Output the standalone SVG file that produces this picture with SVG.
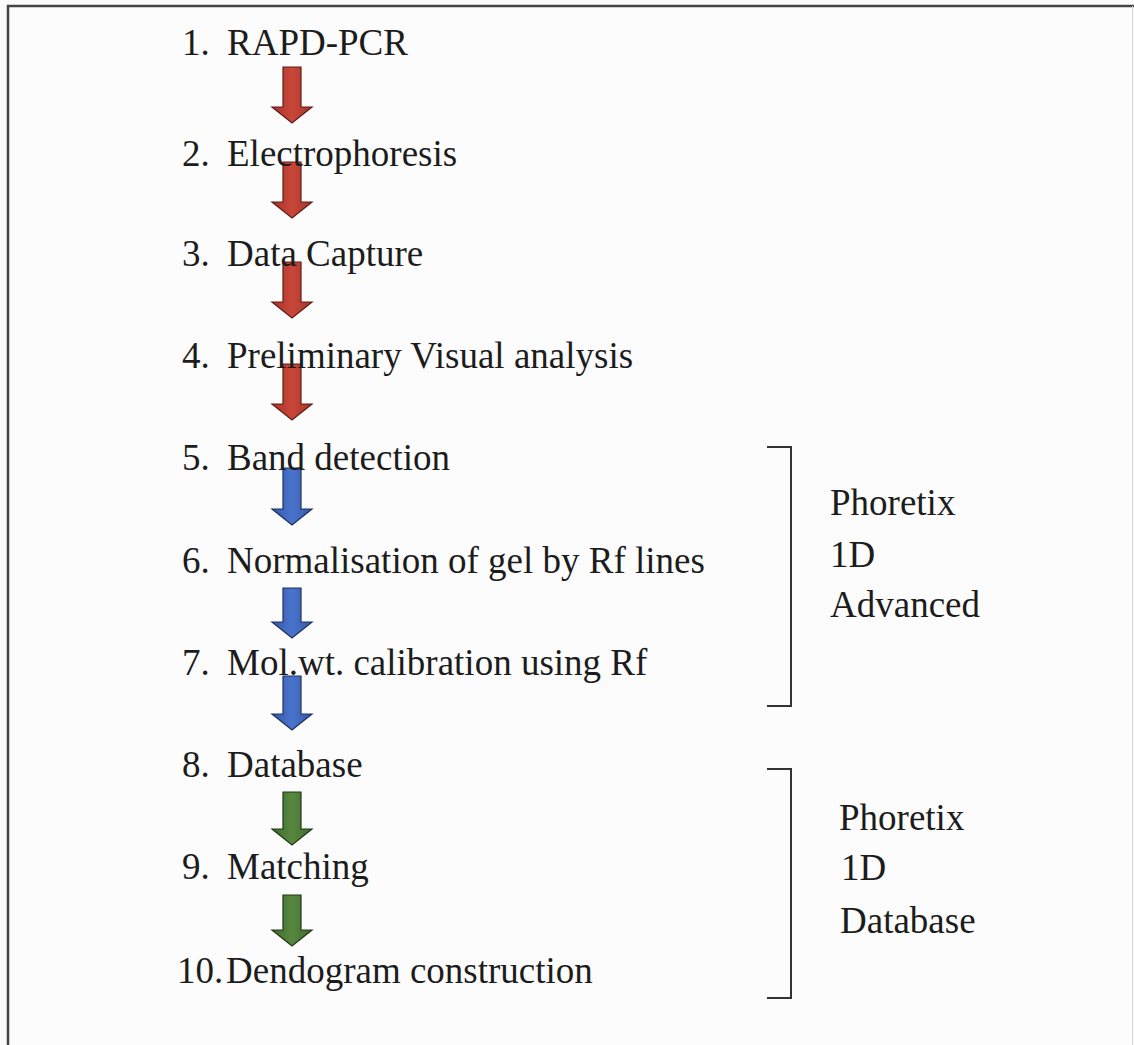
<svg xmlns="http://www.w3.org/2000/svg" width="1134" height="1045" viewBox="0 0 1134 1045">
  <defs>
    <linearGradient id="gRed" x1="0" y1="0" x2="1" y2="0">
      <stop offset="0" stop-color="#a8342a"/>
      <stop offset="0.5" stop-color="#c8473a"/>
      <stop offset="1" stop-color="#a8342a"/>
    </linearGradient>
    <linearGradient id="gBlue" x1="0" y1="0" x2="1" y2="0">
      <stop offset="0" stop-color="#3458a8"/>
      <stop offset="0.5" stop-color="#4a74cc"/>
      <stop offset="1" stop-color="#3458a8"/>
    </linearGradient>
    <linearGradient id="gGreen" x1="0" y1="0" x2="1" y2="0">
      <stop offset="0" stop-color="#3f6a2e"/>
      <stop offset="0.5" stop-color="#58883f"/>
      <stop offset="1" stop-color="#3f6a2e"/>
    </linearGradient>
  </defs>
  <style>
    .t { font-family: "Liberation Serif", "Times New Roman", serif; font-size: 37px; fill: #1c1c1c; }
    .red { fill: url(#gRed); stroke: #5e1c15; stroke-width: 1.2; stroke-linejoin: miter; }
    .blue { fill: url(#gBlue); stroke: #1e3060; stroke-width: 1.2; stroke-linejoin: miter; }
    .green { fill: url(#gGreen); stroke: #22381a; stroke-width: 1.2; stroke-linejoin: miter; }
    .br { fill: none; stroke: #333; stroke-width: 2; }
    .frame { fill: none; stroke: #444; stroke-width: 2.5; }
  </style>
  <rect x="0" y="0" width="1134" height="1045" fill="#fcfcfc"/>
  <g id="frame">
    <path class="frame" d="M8 1045 V6 H1134"/>
    <line x1="1132.5" y1="6" x2="1132.5" y2="1045" stroke="#d8d8d8" stroke-width="1"/>
  </g>

  <g id="connectors">
    <path class="red" d="M283 67 H301 V107 H312 L292 123 L272 107 H283 Z"/>
    <path class="red" d="M283 162 H301 V202 H312 L292 218 L272 202 H283 Z"/>
    <path class="red" d="M283 262 H301 V302 H312 L292 318 L272 302 H283 Z"/>
    <path class="red" d="M283 364 H301 V404 H312 L292 420 L272 404 H283 Z"/>
    <path class="blue" d="M283 468 H301 V509 H312 L292 525 L272 509 H283 Z"/>
    <path class="blue" d="M283 588 H301 V622 H312 L292 638 L272 622 H283 Z"/>
    <path class="blue" d="M283 676 H301 V714 H312 L292 730 L272 714 H283 Z"/>
    <path class="green" d="M283 792 H301 V829 H312 L292 845 L272 829 H283 Z"/>
    <path class="green" d="M283 895 H301 V930 H312 L292 946 L272 930 H283 Z"/>
  </g>

  <g id="step1"><text class="t" y="55"><tspan x="182">1.</tspan><tspan x="227">RAPD-PCR</tspan></text></g>
  <g id="step2"><text class="t" y="166"><tspan x="182">2.</tspan><tspan x="227">Electrophoresis</tspan></text></g>
  <g id="step3"><text class="t" y="266"><tspan x="182">3.</tspan><tspan x="227">Data Capture</tspan></text></g>
  <g id="step4"><text class="t" y="368"><tspan x="182">4.</tspan><tspan x="227">Preliminary Visual analysis</tspan></text></g>
  <g id="step5"><text class="t" y="470"><tspan x="182">5.</tspan><tspan x="227">Band detection</tspan></text></g>
  <g id="step6"><text class="t" y="573"><tspan x="182">6.</tspan><tspan x="227">Normalisation of gel by Rf lines</tspan></text></g>
  <g id="step7"><text class="t" y="675"><tspan x="182">7.</tspan><tspan x="227">Mol.wt. calibration using Rf</tspan></text></g>
  <g id="step8"><text class="t" y="777"><tspan x="182">8.</tspan><tspan x="227">Database</tspan></text></g>
  <g id="step9"><text class="t" y="879"><tspan x="182">9.</tspan><tspan x="227">Matching</tspan></text></g>
  <g id="step10"><text class="t" y="983"><tspan x="177">10.</tspan><tspan x="226">Dendogram construction</tspan></text></g>

  <g id="group-advanced">
    <path class="br" d="M767 447 H791 V706 H767"/>
    <text class="t" x="830" y="515">Phoretix</text>
    <text class="t" x="830" y="567">1D</text>
    <text class="t" x="830" y="617">Advanced</text>
  </g>
  <g id="group-database">
    <path class="br" d="M767 769 H791 V998 H767"/>
    <text class="t" x="839" y="830">Phoretix</text>
    <text class="t" x="841" y="880">1D</text>
    <text class="t" x="840" y="933">Database</text>
  </g>
</svg>
